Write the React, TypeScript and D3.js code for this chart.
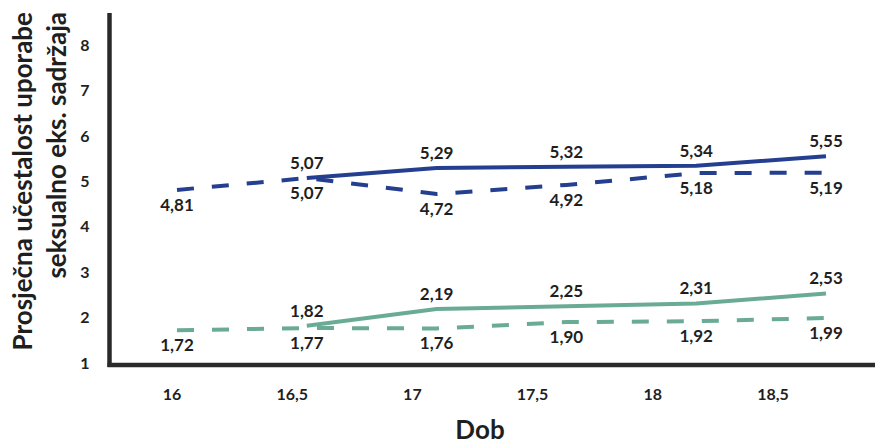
import React from "react";
import * as d3 from "d3";

const ages = [16, 16.5, 17, 17.5, 18, 18.5];
const tickLabels = ["16", "16,5", "17", "17,5", "18", "18,5"];
const yTicks = [1, 2, 3, 4, 5, 6, 7, 8];

const blueSolid: (number | null)[] = [null, 5.07, 5.29, 5.32, 5.34, 5.55];
const blueDashed: (number | null)[] = [4.81, 5.07, 4.72, 4.92, 5.18, 5.19];
const greenSolid: (number | null)[] = [null, 1.82, 2.19, 2.25, 2.31, 2.53];
const greenDashed: (number | null)[] = [1.72, 1.77, 1.76, 1.9, 1.92, 1.99];

const BLUE = "#243f8f";
const GREEN = "#6aab96";
const AXIS = "#2a2a2a";
const TEXT = "#1f1f1f";
const FONT = "Lato, 'Open Sans', sans-serif";

const fmt = (v: number) => v.toFixed(2).replace(".", ",");

export default function App() {
  const W = 875;
  const H = 446;
  const x = d3.scaleLinear().domain([16, 18.5]).range([177, 826]);
  const xTick = d3.scaleLinear().domain([16, 18.5]).range([172, 773]);
  const y = d3.scaleLinear().domain([1, 8]).range([363, 45]);

  const line = d3
    .line<number | null>()
    .defined((d) => d != null)
    .x((_, i) => x(ages[i]))
    .y((d) => y(d as number));

  const series = [
    { data: blueSolid, color: BLUE, dashed: false, above: true },
    { data: blueDashed, color: BLUE, dashed: true, above: false },
    { data: greenSolid, color: GREEN, dashed: false, above: true },
    { data: greenDashed, color: GREEN, dashed: true, above: false },
  ];

  return (
    <svg
      width={W}
      height={H}
      style={{ position: "absolute", left: 0, top: 0, background: "#fff" }}
      fontFamily={FONT}
    >
      {/* axes */}
      <line x1={109.5} x2={109.5} y1={13} y2={367} stroke={AXIS} strokeWidth={4.5} />
      <line x1={107.5} x2={875} y1={365} y2={365} stroke={AXIS} strokeWidth={4.5} />

      {/* y ticks */}
      {yTicks.map((t) => (
        <text
          key={t}
          x={85}
          y={y(t)}
          dy="0.36em"
          textAnchor="middle"
          fontSize={16}
          fontWeight={700}
          fill={TEXT}
        >
          {t}
        </text>
      ))}

      {/* x ticks */}
      {ages.map((a, i) => (
        <text
          key={a}
          x={xTick(a)}
          y={400}
          textAnchor="middle"
          fontSize={16}
          fontWeight={700}
          fill={TEXT}
        >
          {tickLabels[i]}
        </text>
      ))}

      {/* axis titles */}
      <text
        x={480}
        y={439}
        textAnchor="middle"
        fontSize={26}
        fontWeight={700}
        fill={TEXT}
      >
        Dob
      </text>
      <text
        transform="translate(32,12) rotate(-90)"
        textAnchor="end"
        fontSize={26}
        fontWeight={700}
        fill={TEXT}
      >
        Prosječna učestalost uporabe
      </text>
      <text
        transform="translate(66,12) rotate(-90)"
        textAnchor="end"
        fontSize={26}
        fontWeight={700}
        fill={TEXT}
      >
        seksualno eks. sadržaja
      </text>

      {/* lines */}
      {series.map((s, k) => (
        <path
          key={k}
          d={line(s.data) || ""}
          fill="none"
          stroke={s.color}
          strokeWidth={4}
          strokeDasharray={s.dashed ? "17 18" : undefined}
        />
      ))}

      {/* labels */}
      {series.map((s, k) =>
        s.data.map((v, i) =>
          v == null ? null : (
            <text
              key={`${k}-${i}`}
              x={x(ages[i])}
              y={s.above ? y(v) - 9 : y(v) + 21}
              textAnchor="middle"
              fontSize={17}
              fontWeight={700}
              fill={TEXT}
            >
              {fmt(v)}
            </text>
          )
        )
      )}
    </svg>
  );
}
